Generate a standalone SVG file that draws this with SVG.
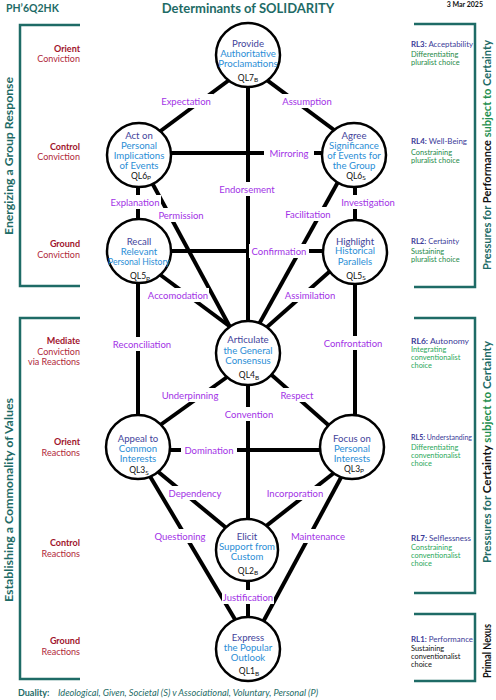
<svg xmlns="http://www.w3.org/2000/svg" width="496" height="700" viewBox="0 0 496 700">
<style>
text{font-family:Lato,"Liberation Sans",sans-serif}
.n{fill:#fff;stroke:#000;stroke-width:2.5}
.c line{stroke:#000;stroke-width:4}
.t1{font-size:9.6px;fill:#43439b;text-anchor:middle}
.t2{font-size:9.6px;fill:#2b8ed6;text-anchor:middle}
.ql{font-size:8.5px;fill:#111;text-anchor:middle}
.sub{font-size:6.5px}
.lb rect{fill:#fff}
.lb text{font-size:9.5px;fill:#a232e6;text-anchor:middle}
.lr{font-size:9px;fill:#b0283a;text-anchor:end}
.lrb{font-size:9px;fill:#a0142c;text-anchor:end;font-weight:bold}
.br{fill:none;stroke:#1e6b66;stroke-width:2.5}
.rl{font-size:7.6px;fill:#3b3b98}
.rlb{font-weight:bold}
.g1{font-size:7.4px;fill:#1e8a48}
.g2{font-size:7.4px;fill:#2aa85a}
.bk{font-size:7.4px;fill:#111}
.vt{font-size:10.5px;font-weight:bold;fill:#1e6b66;text-anchor:middle}
</style>
<!-- header -->
<text x="6" y="12" style="font-size:10.5px;font-weight:bold;fill:#1e6b66">PH’6Q2HK</text>
<text x="248" y="13" style="font-size:13px;font-weight:bold;fill:#1e6b66;text-anchor:middle">Determinants of SOLIDARITY</text>
<text x="483" y="7" style="font-size:7px;font-weight:bold;fill:#111;text-anchor:end">3 Mar 2025</text>

<!-- brackets -->
<g id="brackets">
<path class="br" d="M80,25 H20 V286 H80"/>
<path class="br" d="M80,318 H20 V679 H80"/>
<path class="br" d="M414,24 H475 V287 H414"/>
<path class="br" d="M414,318 H475 V593 H414"/>
<path class="br" d="M414,614 H475 V681 H414"/>
</g>

<!-- vertical side texts -->
<text class="vt" transform="translate(12.5,156) rotate(-90)" textLength="158" lengthAdjust="spacingAndGlyphs">Energizing  a  Group  Response</text>
<text class="vt" transform="translate(12.5,500) rotate(-90)" textLength="204" lengthAdjust="spacingAndGlyphs">Establishing  a  Commonality  of  Values</text>
<text class="vt" transform="translate(491,155) rotate(-90)" textLength="230" lengthAdjust="spacingAndGlyphs">Pressures for <tspan fill="#111">Performance</tspan> <tspan fill="#1f8f50">subject to</tspan> Certainty</text>
<text class="vt" transform="translate(491,452) rotate(-90)" textLength="222" lengthAdjust="spacingAndGlyphs">Pressures for <tspan fill="#111">Certainty</tspan> <tspan fill="#1f8f50">subject to</tspan> Certainty</text>
<text class="vt" transform="translate(491,651) rotate(-90)" textLength="54" lengthAdjust="spacingAndGlyphs" style="fill:#111">Primal Nexus</text>

<!-- left level labels -->
<g id="levels-left">
<text class="lrb" x="80" y="52">Orient</text><text class="lr" x="80" y="62">Conviction</text>
<text class="lrb" x="80" y="150">Control</text><text class="lr" x="80" y="160">Conviction</text>
<text class="lrb" x="80" y="247">Ground</text><text class="lr" x="80" y="258">Conviction</text>
<text class="lrb" x="80" y="344">Mediate</text><text class="lr" x="80" y="355">Conviction</text><text class="lr" x="80" y="365">via Reactions</text>
<text class="lrb" x="80" y="445">Orient</text><text class="lr" x="80" y="456">Reactions</text>
<text class="lrb" x="80" y="546">Control</text><text class="lr" x="80" y="557">Reactions</text>
<text class="lrb" x="80" y="644">Ground</text><text class="lr" x="80" y="655">Reactions</text>
</g>

<!-- right RL labels -->
<g id="levels-right">
<text class="rl" x="411" y="47" textLength="62" lengthAdjust="spacingAndGlyphs"><tspan class="rlb">RL3:</tspan>  Acceptability</text>
<text class="g1" x="411" y="57">Differentiating</text><text class="g1" x="411" y="65">pluralist choice</text>
<text class="rl" x="411" y="144" textLength="56" lengthAdjust="spacingAndGlyphs"><tspan class="rlb">RL4:</tspan>  Well-Being</text>
<text class="g1" x="411" y="155">Constraining</text><text class="g1" x="411" y="163">pluralist choice</text>
<text class="rl" x="411" y="244"><tspan class="rlb">RL2:</tspan> Certainty</text>
<text class="g1" x="411" y="254">Sustaining</text><text class="g1" x="411" y="262">pluralist choice</text>
<text class="rl" x="411" y="344" textLength="58" lengthAdjust="spacingAndGlyphs"><tspan class="rlb">RL6:</tspan>  Autonomy</text>
<text class="g2" x="411" y="352">Integrating</text><text class="g2" x="411" y="360">conventionalist</text><text class="g2" x="411" y="368">choice</text>
<text class="rl" x="411" y="440" textLength="61" lengthAdjust="spacingAndGlyphs"><tspan class="rlb">RL5:</tspan> Understanding</text>
<text class="g2" x="411" y="450">Differentiating</text><text class="g2" x="411" y="458">conventionalist</text><text class="g2" x="411" y="466">choice</text>
<text class="rl" x="411" y="541" textLength="60" lengthAdjust="spacingAndGlyphs"><tspan class="rlb">RL7:</tspan>  Selflessness</text>
<text class="g2" x="411" y="550">Constraining</text><text class="g2" x="411" y="558">conventionalist</text><text class="g2" x="411" y="566">choice</text>
<text class="rl" x="411" y="642" textLength="62" lengthAdjust="spacingAndGlyphs"><tspan class="rlb">RL1:</tspan>  Performance</text>
<text class="bk" x="411" y="651">Sustaining</text><text class="bk" x="411" y="659">conventionalist</text><text class="bk" x="411" y="667">choice</text>
</g>

<!-- connectors -->
<g id="connectors" class="c">
<line x1="139" y1="147" x2="248" y2="66"/>
<line x1="248" y1="66" x2="357" y2="147"/>
<line x1="248" y1="55" x2="248" y2="353"/>
<line x1="139" y1="153" x2="354" y2="153"/>
<line x1="138" y1="155" x2="138" y2="251"/>
<line x1="137" y1="155" x2="244" y2="353"/>
<line x1="355" y1="155" x2="355" y2="252"/>
<line x1="353" y1="155" x2="243" y2="353"/>
<line x1="139" y1="251" x2="355" y2="251"/>
<line x1="139" y1="259" x2="248" y2="340"/>
<line x1="355" y1="249" x2="248" y2="344"/>
<line x1="138" y1="251" x2="138" y2="447"/>
<line x1="355" y1="252" x2="355" y2="447"/>
<line x1="248" y1="362" x2="138" y2="441"/>
<line x1="248" y1="354" x2="352" y2="446"/>
<line x1="248" y1="353" x2="248" y2="649"/>
<line x1="138" y1="450" x2="352" y2="450"/>
<line x1="139" y1="456" x2="247" y2="545"/>
<line x1="353" y1="458" x2="247" y2="541"/>
<line x1="132" y1="446" x2="252" y2="648"/>
<line x1="358" y1="446" x2="249" y2="648"/>
</g>

<!-- connector labels -->
<g id="connector-labels" class="lb">
<rect x="160" y="94" width="53" height="14"/><text x="186" y="104.5">Expectation</text>
<rect x="281" y="94" width="53" height="14"/><text x="307" y="104.5">Assumption</text>
<rect x="218" y="182" width="59" height="14"/><text x="247" y="192.5">Endorsement</text>
<rect x="264" y="146" width="50" height="14"/><text x="289" y="156.5">Mirroring</text>
<rect x="110" y="195" width="51" height="14"/><text x="135" y="205.5">Explanation</text>
<rect x="158" y="208" width="46" height="14"/><text x="181" y="218.5">Permission</text>
<rect x="340" y="195" width="56" height="14"/><text x="368" y="205.5">Investigation</text>
<rect x="284" y="207" width="48" height="14"/><text x="308" y="217.5">Facilitation</text>
<rect x="249" y="244" width="60" height="14"/><text x="279" y="254.5">Confirmation</text>
<rect x="148" y="288" width="61" height="14"/><text x="178" y="298.5">Accomodation</text>
<rect x="284" y="288" width="52" height="14"/><text x="310" y="298.5">Assimilation</text>
<rect x="112" y="337" width="60" height="14"/><text x="142" y="347.5">Reconciliation</text>
<rect x="324" y="336" width="58" height="14"/><text x="353" y="346.5">Confrontation</text>
<rect x="161" y="388" width="59" height="14"/><text x="190" y="398.5">Underpinning</text>
<rect x="279" y="388" width="36" height="14"/><text x="297" y="398.5">Respect</text>
<rect x="224" y="407" width="50" height="14"/><text x="249" y="417.5">Convention</text>
<rect x="181" y="443" width="56" height="14"/><text x="209" y="453.5">Domination</text>
<rect x="168" y="486" width="54" height="14"/><text x="195" y="496.5">Dependency</text>
<rect x="266" y="486" width="58" height="14"/><text x="295" y="496.5">Incorporation</text>
<rect x="154" y="529" width="52" height="14"/><text x="180" y="539.5">Questioning</text>
<rect x="291" y="529" width="54" height="14"/><text x="318" y="539.5">Maintenance</text>
<rect x="222" y="590" width="52" height="14"/><text x="248" y="600.5">Justification</text>
</g>

<!-- nodes -->
<g id="ql7"><circle class="n" cx="248" cy="55" r="32"/>
<text class="t1" x="248" y="46.5">Provide</text><text class="t2" x="248" y="56.5">Authoritative</text><text class="t2" x="248" y="66.5">Proclamations</text>
<text class="ql" x="248" y="80.5">QL7<tspan class="sub" dy="1.5">B</tspan></text></g>

<g id="ql6p"><circle class="n" cx="139" cy="155" r="32"/>
<text class="t1" x="139" y="138.5">Act on</text><text class="t2" x="139" y="148.5">Personal</text><text class="t2" x="139" y="159">Implications</text><text class="t2" x="139" y="169">of Events</text>
<text class="ql" x="141" y="179">QL6<tspan class="sub" dy="1">P</tspan></text></g>

<g id="ql6s"><circle class="n" cx="354" cy="155" r="32"/>
<text class="t1" x="354" y="138.5">Agree</text><text class="t2" x="354" y="148.5">Significance</text><text class="t2" x="354" y="159">of Events for</text><text class="t2" x="354" y="169">the Group</text>
<text class="ql" x="356" y="179">QL6<tspan class="sub" dy="1">S</tspan></text></g>

<g id="ql5p"><circle class="n" cx="139" cy="251" r="32"/>
<text class="t1" x="139" y="244.5">Recall</text><text class="t2" x="139" y="254.5">Relevant</text><text class="t2" x="139" y="264.5" textLength="62" lengthAdjust="spacingAndGlyphs">Personal History</text>
<text class="ql" x="140" y="279">QL5<tspan class="sub" dy="1.5">P</tspan></text></g>

<g id="ql5s"><circle class="n" cx="355" cy="252" r="32"/>
<text class="t1" x="355" y="244.5">Highlight</text><text class="t2" x="355" y="254">Historical</text><text class="t2" x="355" y="264.5">Parallels</text>
<text class="ql" x="356" y="278.5">QL5<tspan class="sub" dy="1.5">S</tspan></text></g>

<g id="ql4"><circle class="n" cx="248" cy="353" r="32"/>
<text class="t1" x="248" y="342.5">Articulate</text><text class="t2" x="248" y="353.5">the General</text><text class="t2" x="248" y="363.5">Consensus</text>
<text class="ql" x="249" y="378">QL4<tspan class="sub" dy="1.5">B</tspan></text></g>

<g id="ql3s"><circle class="n" cx="138" cy="447" r="32"/>
<text class="t1" x="138" y="441.5">Appeal to</text><text class="t2" x="138" y="451.5">Common</text><text class="t2" x="138" y="461.5">Interests</text>
<text class="ql" x="139" y="473">QL3<tspan class="sub" dy="1.5">S</tspan></text></g>

<g id="ql3p"><circle class="n" cx="352" cy="447" r="32"/>
<text class="t1" x="352" y="441.5">Focus on</text><text class="t2" x="352" y="451.5">Personal</text><text class="t2" x="352" y="462">Interests</text>
<text class="ql" x="354" y="471.5">QL3<tspan class="sub" dy="1.5">P</tspan></text></g>

<g id="ql2"><circle class="n" cx="247" cy="550" r="31"/>
<text class="t1" x="247" y="539.5">Elicit</text><text class="t2" x="247" y="549.5">Support from</text><text class="t2" x="247" y="559.5">Custom</text>
<text class="ql" x="248" y="573.5">QL2<tspan class="sub" dy="1.5">B</tspan></text></g>

<g id="ql1"><circle class="n" cx="248" cy="649" r="32"/>
<text class="t1" x="248" y="640.5">Express</text><text class="t2" x="248" y="651">the Popular</text><text class="t2" x="248" y="660.5">Outlook</text>
<text class="ql" x="249" y="674">QL1<tspan class="sub" dy="1.5">B</tspan></text></g>

<!-- footer -->
<text x="18" y="696" style="font-size:9px;font-weight:bold;fill:#1e6b66">Duality:</text>
<text x="58" y="696" textLength="260" lengthAdjust="spacingAndGlyphs" style="font-size:9px;font-style:italic;fill:#1e6b66">Ideological, Given, Societal (S)  v  Associational, Voluntary, Personal (P)</text>
</svg>
